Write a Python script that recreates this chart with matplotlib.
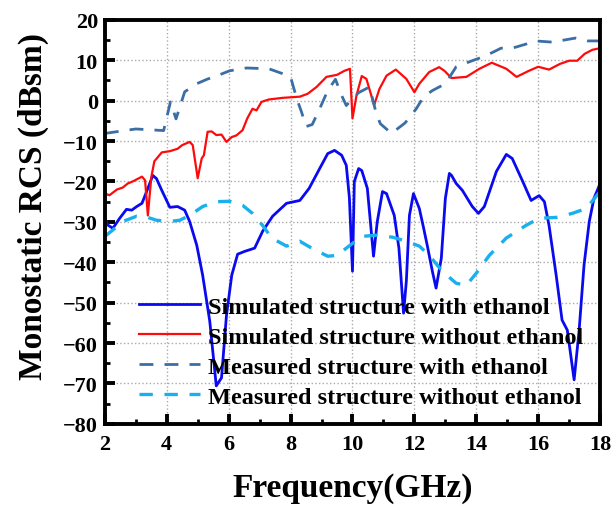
import numpy as np
import matplotlib.pyplot as plt
from matplotlib.ticker import MultipleLocator

plt.rcParams['font.family'] = ['Liberation Serif', 'DejaVu Serif']
plt.rcParams['font.weight'] = 'bold'

# Simulated structure with ethanol
f_sim_eth = [2.0, 2.1, 2.26, 2.48, 2.7, 2.87, 3.03, 3.2, 3.35, 3.55, 3.67, 3.84, 4.1, 4.35, 4.58,
             4.74, 4.97, 5.16, 5.39, 5.6, 5.77, 5.93, 6.1, 6.29, 6.52, 6.84, 7.1, 7.42, 7.87, 8.3,
             8.6, 8.94, 9.2, 9.42, 9.65, 9.8, 9.9, 10.0, 10.06, 10.2, 10.3, 10.48, 10.68, 10.8,
             10.97, 11.1, 11.35, 11.5, 11.65, 11.74, 11.84, 11.97, 12.16, 12.3, 12.42, 12.58,
             12.7, 12.87, 13.0, 13.13, 13.2, 13.35, 13.55, 13.87, 14.07, 14.26, 14.65, 14.97,
             15.16, 15.5, 15.77, 16.03, 16.2, 16.35, 16.58, 16.77, 16.94, 17.16, 17.32, 17.48,
             17.65, 17.8, 18.0]
rcs_sim_eth = [-29.1, -30.8, -31.6, -29.1, -26.9, -27.1, -26.2, -25.4, -22.5, -18.5, -19.3, -22.2,
               -26.4, -26.2, -27.1, -29.9, -35.8, -43.2, -54.6, -70.6, -68.6, -53.1, -43.2, -38.0,
               -37.3, -36.5, -32.3, -28.6, -25.4, -24.7, -21.7, -16.8, -13.1, -12.3, -13.5, -16.0,
               -24.0, -42.2, -20.0, -16.8, -17.3, -21.7, -38.5, -30.0, -22.5, -23.0, -28.4, -36.5,
               -52.6, -44.7, -28.4, -23.0, -26.7, -31.6, -36.0, -42.2, -46.4, -39.0, -24.2, -18.0,
               -18.5, -20.5, -22.2, -26.2, -27.9, -26.2, -17.5, -13.3, -14.3, -20.0, -24.7, -23.5,
               -25.0, -30.9, -43.2, -54.3, -56.8, -69.1, -57.0, -40.7, -29.9, -24.2, -20.5]

# Simulated structure without ethanol
f_sim_air = [2.0, 2.15, 2.39, 2.58, 2.74, 2.9, 3.2, 3.3, 3.39, 3.5, 3.6, 3.84, 4.1, 4.35, 4.5,
             4.74, 4.84, 5.0, 5.13, 5.2, 5.32, 5.45, 5.6, 5.77, 5.93, 6.1, 6.25, 6.45, 6.6, 6.77,
             6.9, 7.06, 7.3, 7.74, 8.3, 8.55, 8.84, 9.16, 9.5, 9.74, 9.92, 10.0, 10.13, 10.3,
             10.45, 10.7, 10.87, 11.1, 11.4, 11.74, 12.0, 12.16, 12.48, 12.8, 12.97, 13.2, 13.68,
             14.1, 14.5, 14.97, 15.3, 15.7, 16.0, 16.35, 16.7, 17.0, 17.26, 17.5, 17.75, 18.0]
rcs_sim_air = [-23.0, -23.4, -22.0, -21.5, -20.5, -20.0, -18.8, -19.7, -28.4, -19.0, -15.0, -12.8,
               -12.5, -11.9, -11.0, -10.2, -11.0, -19.2, -14.3, -13.5, -7.7, -7.6, -8.5, -8.4,
               -10.2, -9.0, -8.6, -7.3, -4.4, -2.0, -2.4, -0.3, 0.3, 0.7, 1.0, 1.7, 3.4, 5.9, 6.4,
               7.4, 7.9, -4.4, 1.3, 6.1, 5.4, -1.1, 2.9, 6.2, 7.7, 5.4, 2.1, 4.2, 7.1, 8.3, 7.4,
               5.6, 5.9, 7.9, 9.4, 7.9, 5.9, 7.4, 8.4, 7.7, 9.1, 9.9, 9.9, 11.6, 12.6, 13.0]

# Measured structure with ethanol
f_meas_eth = [2.0, 3.0, 3.9, 4.03, 4.12, 4.3, 4.58, 4.97, 5.3, 5.7, 6.03, 6.58, 7.3, 7.74, 8.0,
              8.2, 8.35, 8.5, 8.7, 8.94, 9.2, 9.45, 9.65, 9.8, 10.0, 10.2, 10.55, 10.77, 10.9,
              11.26, 11.7, 12.06, 12.3, 12.58, 13.0, 13.35, 13.87, 14.3, 14.8, 15.16, 15.6, 15.9,
              16.45, 17.2, 17.58, 18.0]
rcs_meas_eth = [-8.1, -7.0, -7.4, -3.2, -0.3, -4.5, 2.2, 4.2, 5.3, 6.4, 7.4, 8.1, 7.9, 6.7, 5.9,
                0.5, -2.7, -6.4, -5.9, -2.0, 2.5, 5.3, 1.3, -1.2, 0.5, 2.0, 3.4, -3.2, -5.7, -8.1,
                -5.5, -2.0, 1.0, 2.5, 4.2, 8.4, 9.9, 11.1, 13.0, 13.0, 14.0, 14.8, 14.5, 15.5, 14.8,
                14.8]

# Measured structure without ethanol
f_meas_air = [2.0, 2.26, 2.58, 3.03, 3.39, 3.67, 4.1, 4.42, 4.74, 5.16, 5.6, 6.03, 6.45, 6.77,
              7.1, 7.39, 7.87, 8.3, 8.68, 9.2, 9.52, 9.8, 10.3, 10.77, 11.3, 11.74, 12.16, 12.48,
              12.9, 13.35, 13.68, 14.0, 14.42, 14.97, 15.6, 16.03, 16.58, 17.1, 17.55, 18.0]
rcs_meas_air = [-33.6, -32.0, -29.9, -28.6, -28.9, -29.6, -29.9, -29.6, -28.4, -26.2, -25.0, -24.9,
                -25.9, -27.9, -30.9, -34.0, -36.0, -34.8, -36.5, -38.5, -38.3, -36.5, -33.6, -33.3,
                -33.8, -34.8, -36.0, -38.3, -42.2, -45.2, -45.7, -42.7, -38.3, -34.0, -30.9, -29.1,
                -28.9, -27.9, -26.7, -22.5]

labels = ['Simulated structure with ethanol', 'Simulated structure without ethanol',
          'Measured structure with ethanol', 'Measured structure without ethanol']

fig = plt.figure(figsize=(6.13, 5.10), dpi=100)
ax = fig.add_axes([0.171, 0.167, 0.808, 0.792])

ax.plot(f_sim_eth, rcs_sim_eth, color='#0a0af0', lw=2.0, label=labels[0])
ax.plot(f_sim_air, rcs_sim_air, color='#ff0a0a', lw=1.6, label=labels[1])
ax.plot(f_meas_eth, rcs_meas_eth, color='#3a6ea5', lw=2.0, dashes=(5, 4), label=labels[2])
ax.plot(f_meas_air, rcs_meas_air, color='#1ab0ee', lw=2.4, dashes=(4, 3.5), label=labels[3])

ax.set_xlim(2, 18)
ax.set_ylim(-80, 20)
ax.xaxis.set_major_locator(MultipleLocator(2))
ax.xaxis.set_minor_locator(MultipleLocator(1))
ax.yaxis.set_major_locator(MultipleLocator(10))
ax.yaxis.set_minor_locator(MultipleLocator(5))
ax.tick_params(which='both', direction='in', top=False, right=False, labelsize=16)
ax.tick_params(which='major', length=7, width=2.8, pad=5)
ax.tick_params(axis='x', which='major', pad=7)
ax.tick_params(which='minor', length=3.5, width=2)
ax.grid(True, which='major', ls=':', color='#aaaaaa', lw=1)
for s in ax.spines.values():
    s.set_linewidth(2.8)

ax.set_xlabel('Frequency(GHz)', fontsize=24, fontweight='bold', labelpad=13)
ax.set_ylabel('Monostatic RCS (dBsm)', fontsize=24, fontweight='bold')
ax.yaxis.set_label_coords(-0.112, 0.54)

leg = ax.legend(loc='upper left', bbox_to_anchor=(0.07, 0.317), frameon=False, fontsize=17.5,
                handlelength=2.5, handletextpad=0.3, labelspacing=0.33, borderpad=0,
                borderaxespad=0)

fig.savefig('out.png', dpi=100)
